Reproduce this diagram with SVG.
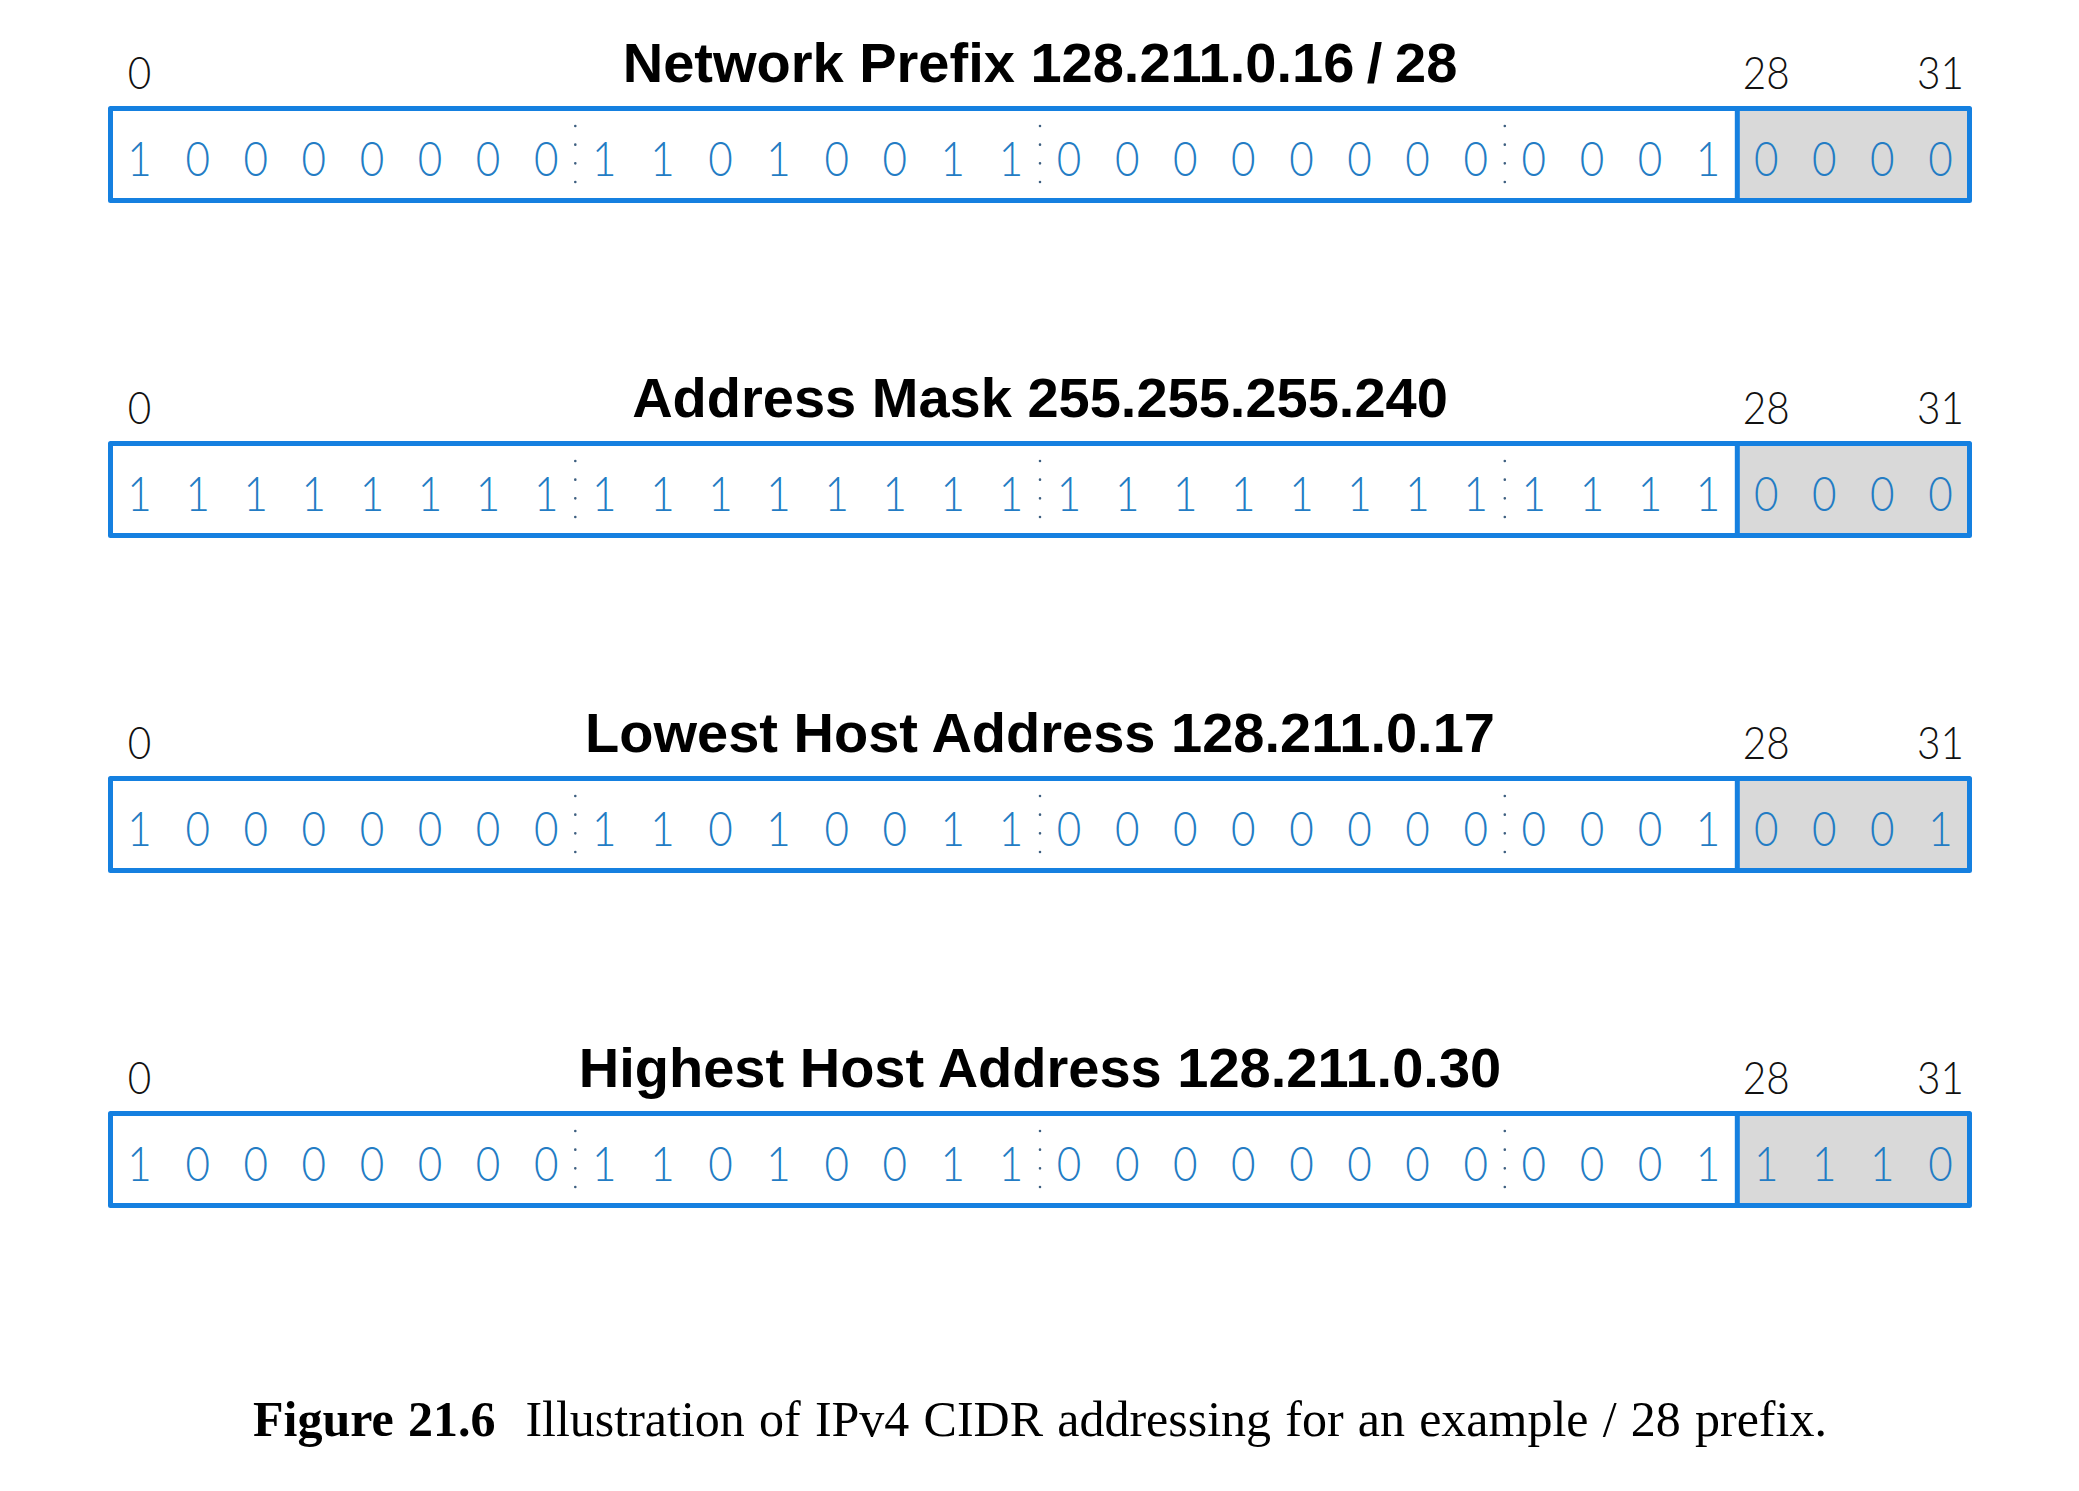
<svg xmlns="http://www.w3.org/2000/svg" width="2079" height="1491" viewBox="0 0 2079 1491">
<style>
.title{font-family:"Liberation Sans",Arial,sans-serif;font-weight:bold;font-size:56px;fill:#000;text-anchor:middle}
.idx{font-family:Lato,"Liberation Mono",monospace;font-weight:300;font-size:46px;fill:#111;text-anchor:middle}
.bits{font-family:Lato,"Liberation Mono",monospace;font-weight:300;font-size:48px;fill:#237cc4;text-anchor:middle}
.box{fill:none;stroke:#1580e0;stroke-width:5;stroke-linejoin:round}
.host{fill:#d9d9d9}
.div{stroke:#1580e0;stroke-width:5}
.dots{stroke:#3d5f80;stroke-width:2.6;stroke-linecap:round;stroke-dasharray:0 18.67}
.cap{font-family:"Liberation Serif","Times New Roman",serif;font-size:50px;fill:#000;word-spacing:1.7px}
</style>
<defs>
<g id="frame">
<rect class="host" x="1737.3" y="108.5" width="232.2" height="92"/>
<line class="dots" x1="575.3" y1="126" x2="575.3" y2="182.1"/>
<line class="dots" x1="1040.0" y1="126" x2="1040.0" y2="182.1"/>
<line class="dots" x1="1504.8" y1="126" x2="1504.8" y2="182.1"/>
<line class="div" x1="1737.3" y1="108.5" x2="1737.3" y2="200.5"/>
<rect class="box" x="110.5" y="108.5" width="1859" height="92"/>
<g transform="scale(0.88 1)">
<text class="idx" x="158.6" y="89">0</text>
<text class="idx" x="2007.0" y="89">28</text>
<text class="idx" x="2205.1" y="89">31</text>
</g>
</g>
</defs>
<g id="row-network-prefix">
<use href="#frame"/>
<text class="title" x="1040" y="82">Network Prefix 128.211.0.16 <tspan dx="-3">/ </tspan><tspan dx="-3">28</tspan></text>
<g transform="scale(0.88 1)"><text class="bits" y="176" x="158.58 224.59 290.61 356.63 422.64 488.66 554.68 620.69 686.71 752.72 818.74 884.76 950.77 1016.79 1082.80 1148.82 1214.84 1280.85 1346.87 1412.88 1478.90 1544.92 1610.93 1676.95 1742.96 1808.98 1875.00 1941.01 2007.03 2073.04 2139.06 2205.08">10000000110100110000000000010000</text></g>
</g>
<g id="row-address-mask" transform="translate(0,335)">
<use href="#frame"/>
<text class="title" x="1040" y="82">Address Mask 255.255.255.240</text>
<g transform="scale(0.88 1)"><text class="bits" y="176" x="158.58 224.59 290.61 356.63 422.64 488.66 554.68 620.69 686.71 752.72 818.74 884.76 950.77 1016.79 1082.80 1148.82 1214.84 1280.85 1346.87 1412.88 1478.90 1544.92 1610.93 1676.95 1742.96 1808.98 1875.00 1941.01 2007.03 2073.04 2139.06 2205.08">11111111111111111111111111110000</text></g>
</g>
<g id="row-lowest-host" transform="translate(0,670)">
<use href="#frame"/>
<text class="title" x="1040" y="82">Lowest Host Address 128.211.0.17</text>
<g transform="scale(0.88 1)"><text class="bits" y="176" x="158.58 224.59 290.61 356.63 422.64 488.66 554.68 620.69 686.71 752.72 818.74 884.76 950.77 1016.79 1082.80 1148.82 1214.84 1280.85 1346.87 1412.88 1478.90 1544.92 1610.93 1676.95 1742.96 1808.98 1875.00 1941.01 2007.03 2073.04 2139.06 2205.08">10000000110100110000000000010001</text></g>
</g>
<g id="row-highest-host" transform="translate(0,1005)">
<use href="#frame"/>
<text class="title" x="1040" y="82">Highest Host Address 128.211.0.30</text>
<g transform="scale(0.88 1)"><text class="bits" y="176" x="158.58 224.59 290.61 356.63 422.64 488.66 554.68 620.69 686.71 752.72 818.74 884.76 950.77 1016.79 1082.80 1148.82 1214.84 1280.85 1346.87 1412.88 1478.90 1544.92 1610.93 1676.95 1742.96 1808.98 1875.00 1941.01 2007.03 2073.04 2139.06 2205.08">10000000110100110000000000011110</text></g>
</g>
<g id="caption">
<text class="cap" x="253" y="1436"><tspan font-weight="bold">Figure 21.6</tspan><tspan dx="30">Illustration of IPv4 CIDR addressing for an example / 28 prefix.</tspan></text>
</g>
</svg>
